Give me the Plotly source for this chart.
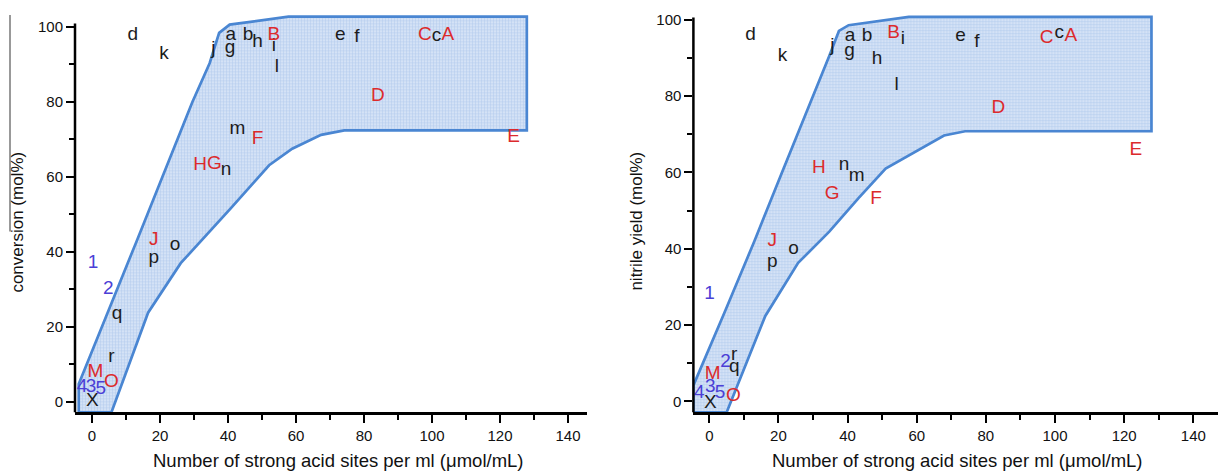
import plotly.graph_objects as go

# ---------------- data ----------------
# Left panel: conversion (mol%) vs number of strong acid sites
left_region_x = [-3.9, -3.9, 13.1, 29.5, 34.6, 37.4, 40.5, 57.8, 127.9, 127.9, 74.2, 67.4, 58.9, 52.1, 40.8, 34.6, 31.8, 26.1, 16.5, 5.7, -3.9]
left_region_y = [-2.8, 4.8, 42.8, 79.9, 90.3, 98.4, 100.6, 102.7, 102.7, 72.4, 72.4, 71.2, 67.5, 63.1, 51.6, 45.4, 42.8, 37.0, 23.8, -2.8, -2.8]

left_black_labels = ['d', 'k', 'j', 'a', 'g', 'b', 'h', 'i', 'l', 'e', 'f', 'c', 'm', 'n', 'o', 'p', 'q', 'r', 'X']
left_black_x = [12.0, 21.2, 35.7, 40.8, 40.6, 45.9, 48.7, 53.5, 54.4, 73.0, 77.9, 101.3, 42.8, 39.4, 24.4, 18.2, 7.4, 5.7, 0.1]
left_black_y = [97.8, 92.7, 94.0, 97.8, 94.4, 97.8, 95.8, 94.9, 89.1, 97.8, 97.1, 97.5, 72.8, 61.8, 41.9, 38.4, 23.4, 12.0, 0.1]

left_red_labels = ['B', 'C', 'A', 'D', 'F', 'H', 'G', 'E', 'J', 'M', 'O']
left_red_x = [53.5, 97.9, 104.7, 84.1, 48.7, 31.8, 36.0, 124.0, 18.2, 1.0, 5.7]
left_red_y = [97.8, 97.8, 97.8, 81.6, 70.1, 63.1, 63.3, 70.6, 43.2, 7.9, 5.2]

left_blue_labels = ['1', '2', '4', '3', '5']
left_blue_x = [0.3, 4.8, -2.9, -0.3, 2.6]
left_blue_y = [37.0, 30.0, 3.9, 3.9, 3.5]

# Right panel: nitrile yield (mol%) vs number of strong acid sites
right_region_x = [-4.6, -4.6, 4.4, 13.0, 20.7, 29.7, 34.7, 37.5, 40.3, 57.7, 127.9, 127.9, 74.0, 67.9, 61.1, 51.0, 43.1, 34.7, 25.7, 16.2, 5.0, -4.6]
right_region_y = [-2.9, 4.2, 23.3, 41.9, 59.3, 79.2, 90.5, 97.1, 98.6, 100.8, 100.8, 70.8, 70.8, 69.7, 66.2, 61.0, 53.2, 44.5, 36.3, 22.4, -2.9, -2.9]

right_black_labels = ['d', 'k', 'j', 'a', 'g', 'b', 'h', 'i', 'l', 'e', 'f', 'c', 'n', 'm', 'o', 'p', 'r', 'q', 'X']
right_black_x = [11.9, 21.2, 35.6, 40.7, 40.6, 45.6, 48.5, 56.0, 54.2, 72.7, 77.4, 101.2, 39.0, 42.6, 24.4, 18.2, 7.2, 7.2, 0.3]
right_black_y = [96.0, 90.5, 93.1, 95.8, 91.7, 95.8, 89.7, 94.9, 82.9, 95.8, 94.0, 96.5, 61.9, 58.9, 39.8, 36.5, 12.2, 8.9, -0.6]

right_red_labels = ['B', 'C', 'A', 'D', 'E', 'H', 'G', 'F', 'J', 'M', 'O']
right_red_x = [53.3, 97.6, 104.6, 83.6, 123.4, 31.7, 35.5, 48.2, 18.2, 1.0, 7.0]
right_red_y = [96.5, 95.1, 95.8, 76.8, 65.8, 61.0, 54.2, 52.9, 41.9, 7.2, 1.3]

right_blue_labels = ['1', '2', '4', '3', '5']
right_blue_x = [0.1, 4.7, -2.9, 0.3, 3.1]
right_blue_y = [28.0, 10.2, 2.0, 3.7, 2.0]

x_title = "Number of strong acid sites per ml (\u03bcmol/mL)"
left_y_title = "conversion (mol%)"
right_y_title = "nitrile yield (mol%)"

# ---------------- style ----------------
W, H = 1218, 471
FONT = "Liberation Sans, Arial, sans-serif"
BLACK = "#1c1c1c"
RED = "#dc2a2c"
BLUE = "#4b3fd6"
EDGE = "#4a86d2"
LABEL_SIZE = 19

fig = go.Figure()


def add_panel(xa, ya, rx, ry, groups):
    fig.add_trace(go.Scatter(
        x=rx, y=ry, mode="lines", fill="toself",
        fillcolor="rgba(205,222,245,0.9)",
        fillpattern=dict(shape="+", size=3, solidity=0.3,
                         fgcolor="#b0c9ec", bgcolor="#d4e2f6", fillmode="replace"),
        line=dict(color=EDGE, width=2.7),
        xaxis=xa, yaxis=ya, hoverinfo="skip", showlegend=False))
    for labels, xs, ys, color in groups:
        fig.add_trace(go.Scatter(
            x=xs, y=ys, text=labels, mode="text", textposition="middle center",
            textfont=dict(family=FONT, size=LABEL_SIZE, color=color),
            xaxis=xa, yaxis=ya, showlegend=False, cliponaxis=False, hoverinfo="skip"))


add_panel("x", "y", left_region_x, left_region_y, [
    (left_black_labels, left_black_x, left_black_y, BLACK),
    (left_red_labels, left_red_x, left_red_y, RED),
    (left_blue_labels, left_blue_x, left_blue_y, BLUE),
])
add_panel("x2", "y2", right_region_x, right_region_y, [
    (right_black_labels, right_black_x, right_black_y, BLACK),
    (right_red_labels, right_red_x, right_red_y, RED),
    (right_blue_labels, right_blue_x, right_blue_y, BLUE),
])

tickfont = dict(family=FONT, size=15, color="#111")


def xaxis_cfg(dom, rng, anchor):
    return dict(domain=dom, range=rng, anchor=anchor, showgrid=False, zeroline=False,
                showline=True, linecolor="black", linewidth=2.5,
                ticks="outside", ticklen=8, tickwidth=2, tickcolor="black",
                tick0=0, dtick=20, tickfont=tickfont, fixedrange=True,
                minor=dict(ticks="outside", dtick=10, tick0=0, ticklen=5, tickwidth=1.5, tickcolor="black"))


def yaxis_cfg(dom, rng, anchor):
    return dict(domain=dom, range=rng, anchor=anchor, showgrid=False, zeroline=False,
                showline=False,
                ticks="outside", ticklen=8, tickwidth=2, tickcolor="black",
                tick0=0, dtick=20, tickfont=tickfont, fixedrange=True,
                minor=dict(ticks="outside", dtick=10, tick0=0, ticklen=5, tickwidth=1.5, tickcolor="black"))


fig.update_layout(
    width=W, height=H,
    margin=dict(l=0, r=0, t=0, b=0),
    paper_bgcolor="white", plot_bgcolor="white",
    xaxis=xaxis_cfg([75 / W, 587 / W], [-5, 145.6], "y"),
    yaxis=yaxis_cfg([0.1251, 0.9779], [-2.8, 103.6], "x"),
    xaxis2=xaxis_cfg([693.4 / W, 1217.5 / W], [-4.6, 147.0], "y2"),
    yaxis2=yaxis_cfg([0.1251, 0.9762], [-2.9, 101.5], "x2"),
)

# y-axis lines (stop just above 100, like the original)
fig.add_shape(type="line", xref="x domain", yref="y", x0=0, x1=0, y0=-2.8, y1=100.9,
              line=dict(color="black", width=2.5))
fig.add_shape(type="line", xref="x2 domain", yref="y2", x0=0, x1=0, y0=-2.9, y1=100.6,
              line=dict(color="black", width=2.5))
# thin grey rule at the far left edge of the original image
fig.add_shape(type="line", xref="paper", yref="paper", x0=10 / W, x1=10 / W,
              y0=1 - 12 / H, y1=1 - 230 / H, line=dict(color="#777", width=1.5))

title_font = dict(family=FONT, size=18.5, color="#111")
ytitle_font = dict(family=FONT, size=17, color="#111")
fig.add_annotation(text=x_title, xref="paper", yref="paper", x=338 / W, y=1 - 460 / H,
                   showarrow=False, font=title_font, xanchor="center", yanchor="middle")
fig.add_annotation(text=x_title, xref="paper", yref="paper", x=957 / W, y=1 - 460 / H,
                   showarrow=False, font=title_font, xanchor="center", yanchor="middle")
fig.add_annotation(text=left_y_title, xref="paper", yref="paper", x=18 / W, y=1 - 221 / H,
                   showarrow=False, font=ytitle_font, textangle=-90, xanchor="center", yanchor="middle")
fig.add_annotation(text=right_y_title, xref="paper", yref="paper", x=637 / W, y=1 - 220 / H,
                   showarrow=False, font=ytitle_font, textangle=-90, xanchor="center", yanchor="middle")

fig.write_html("out.html", config={"displayModeBar": False},
               post_script="document.body.style.margin='0';document.body.style.overflow='hidden';")
